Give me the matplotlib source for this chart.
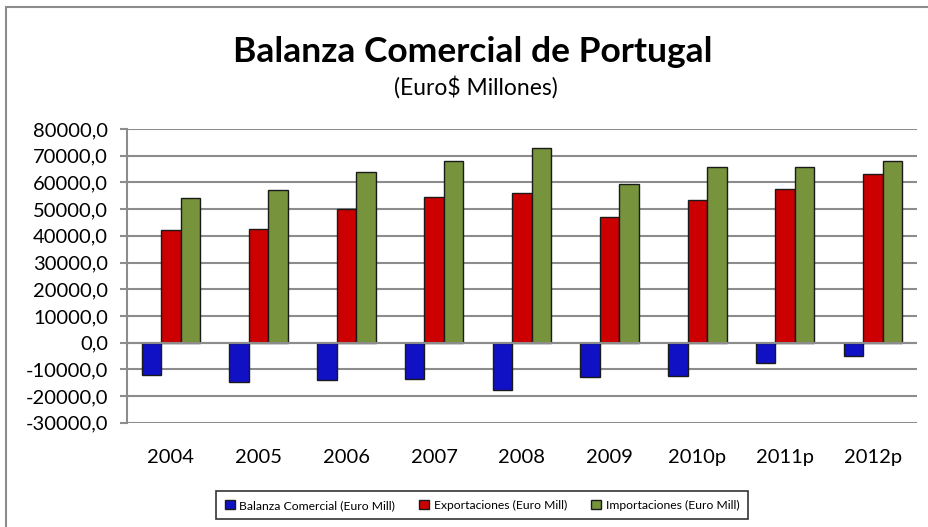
import numpy as np
import matplotlib.pyplot as plt
from matplotlib.patches import Rectangle

years = ["2004", "2005", "2006", "2007", "2008", "2009", "2010p", "2011p", "2012p"]
balanza = [-12200, -14600, -14000, -13500, -17700, -13000, -12400, -7500, -5100]
exportaciones = [42200, 42700, 50000, 54700, 56100, 46900, 53600, 57700, 63200]
importaciones = [54200, 57200, 63900, 68100, 73000, 59600, 65700, 65700, 68100]

series = [
    ("Balanza Comercial (Euro Mill)", balanza, "#1010C4"),
    ("Exportaciones (Euro Mill)", exportaciones, "#CC0000"),
    ("Importaciones (Euro Mill)", importaciones, "#77933C"),
]

plt.rcParams["font.family"] = ["Lato", "DejaVu Sans"]

fig = plt.figure(figsize=(9.29, 5.27), dpi=100)
ax = fig.add_axes([0.1367, 0.198, 0.85, 0.557])

x = np.arange(len(years))
w = 0.222
for i, (name, vals, col) in enumerate(series):
    ax.bar(x + (i - 1) * w, vals, w, color=col, edgecolor="#1a1a1a",
           linewidth=1.0, label=name, zorder=3)

ax.set_xlim(-0.5, len(years) - 0.5)
ax.set_ylim(-30000, 80000)
ax.set_yticks(np.arange(-30000, 80001, 10000))
ax.set_yticklabels([f"{v},0" for v in range(-30000, 80001, 10000)], fontsize=14.5)
ax.set_xticks(x)
ax.set_xticklabels(years, fontsize=14.5)
ax.tick_params(axis="x", length=0, pad=19)
ax.tick_params(axis="y", length=5, width=1.5, color="#8c8c8c", pad=8.5)

ax.yaxis.grid(True, color="#8c8c8c", linewidth=1.5, zorder=0)
ax.axhline(0, color="#8c8c8c", linewidth=1.5, zorder=4)
for s in ["top", "right", "bottom"]:
    ax.spines[s].set_visible(False)
ax.spines["left"].set_color("#8c8c8c")
ax.spines["left"].set_linewidth(1.5)

fig.text(0.509, 0.882, "Balanza Comercial de Portugal", ha="center", va="baseline",
         fontsize=25.5, fontweight="bold")
fig.text(0.512, 0.82, "(Euro$ Millones)", ha="center", va="baseline", fontsize=16.5)

leg = fig.legend(loc="center", bbox_to_anchor=(0.519, 0.041), ncol=3, fontsize=8.7,
                 frameon=True, fancybox=False, handlelength=0.8, handleheight=0.8,
                 handletextpad=0.4, columnspacing=2.0, borderpad=0.7)
leg.get_frame().set_edgecolor("black")
leg.get_frame().set_linewidth(1.2)

fig.patches.append(Rectangle((0.0065, -0.05), 1.1, 1.0367, transform=fig.transFigure,
                             fill=False, edgecolor="#8c8c8c", linewidth=1.5))

fig.savefig("out.png", dpi=100)
